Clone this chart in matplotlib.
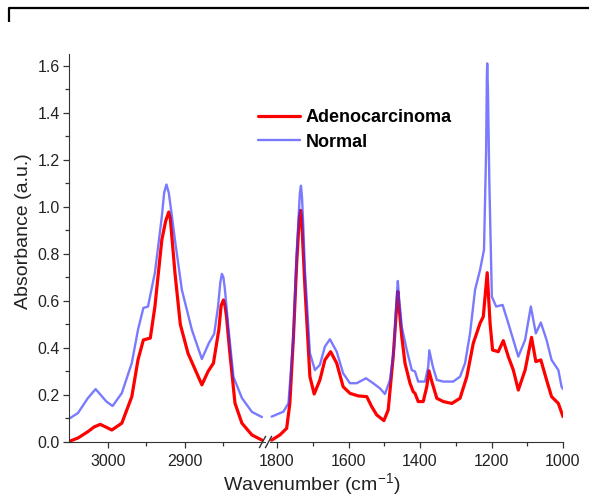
import matplotlib
matplotlib.use("Agg")
import matplotlib.pyplot as plt
from matplotlib.lines import Line2D
from matplotlib.ticker import MultipleLocator, FixedLocator, FormatStrFormatter

plt.rcParams["font.family"] = ["Liberation Sans", "DejaVu Sans"]
plt.rcParams["mathtext.default"] = "regular"

# ---- spectra: C-H stretching region (3050-2800 cm-1) ----
normal_hi_wn = [3050, 3039, 3026, 3016, 3002, 2994, 2982, 2969, 2961, 2954, 2948,
                2939, 2930, 2927, 2924, 2921, 2918, 2913, 2904, 2891, 2878, 2869, 2862, 2857,
                2854, 2852, 2850, 2848, 2844, 2837, 2826, 2813, 2800]
normal_hi_abs = [0.10, 0.123, 0.187, 0.225, 0.172, 0.153, 0.208, 0.336, 0.477, 0.57, 0.576,
                 0.72, 0.959, 1.06, 1.095, 1.06, 0.987, 0.86, 0.647, 0.477, 0.353, 0.42, 0.46, 0.576,
                 0.68, 0.715, 0.70, 0.647, 0.50, 0.277, 0.187, 0.128, 0.106]

adeno_hi_wn = [3050, 3039, 3026, 3018, 3010, 3003, 2995, 2982, 2969, 2961, 2954, 2945,
               2939, 2930, 2925, 2921, 2919, 2917, 2913, 2906, 2896, 2878, 2870, 2863, 2856,
               2853, 2850, 2848, 2846, 2842, 2835, 2826, 2813, 2800]
adeno_hi_abs = [0.003, 0.017, 0.044, 0.064, 0.075, 0.064, 0.051, 0.08, 0.193, 0.349, 0.434, 0.442,
                0.576, 0.86, 0.94, 0.978, 0.95, 0.874, 0.72, 0.50, 0.377, 0.243, 0.30, 0.335, 0.477,
                0.58, 0.604, 0.58, 0.533, 0.39, 0.165, 0.08, 0.03, 0.008]

# ---- spectra: fingerprint region (1815-1000 cm-1) ----
normal_lo_wn = [1815, 1782, 1768, 1754, 1745, 1740, 1736, 1733, 1730, 1726, 1722, 1708, 1694, 1680,
                1666, 1652, 1633, 1615, 1596, 1577, 1551, 1531, 1512, 1498, 1484, 1473,
                1466, 1462, 1459, 1451, 1437, 1423, 1414, 1405, 1386, 1377, 1374, 1364, 1353, 1335,
                1307, 1288, 1274, 1260, 1246, 1232, 1221, 1215, 1213, 1212, 1210, 1206, 1199, 1187,
                1169, 1153, 1139, 1125, 1106, 1090, 1076, 1062, 1046, 1032, 1013, 1004, 1000]
normal_lo_abs = [0.108, 0.129, 0.165, 0.448, 0.804, 0.945, 1.06, 1.09, 1.04, 0.90, 0.732, 0.378, 0.306, 0.328,
                 0.406, 0.437, 0.384, 0.292, 0.25, 0.25, 0.271, 0.25, 0.228, 0.204, 0.264, 0.391,
                 0.60, 0.685, 0.62, 0.49, 0.391, 0.306, 0.30, 0.257, 0.257, 0.32, 0.39, 0.32, 0.264, 0.257,
                 0.257, 0.278, 0.335, 0.462, 0.647, 0.732, 0.817, 1.243, 1.55, 1.61, 1.50, 1.10, 0.618, 0.576,
                 0.583, 0.505, 0.434, 0.363, 0.434, 0.576, 0.462, 0.508, 0.434, 0.349, 0.306, 0.235, 0.225]

adeno_lo_wn = [1815, 1792, 1773, 1764, 1754, 1745, 1740, 1737, 1734, 1731, 1728, 1722, 1708, 1696,
               1680, 1666, 1650, 1633, 1615, 1596, 1573, 1549, 1535, 1521, 1501, 1489,
               1475, 1466, 1462, 1459, 1451, 1442, 1428, 1419, 1414, 1405, 1391, 1381, 1375, 1367,
               1353, 1335, 1311, 1288, 1269, 1251, 1232, 1223, 1212, 1204, 1197, 1181,
               1167, 1153, 1139, 1125, 1106, 1088, 1076, 1062, 1046, 1032, 1013, 1000]
adeno_lo_abs = [0.008, 0.03, 0.058, 0.165, 0.448, 0.76, 0.89, 0.96, 0.985, 0.95, 0.85, 0.661, 0.278, 0.204,
                0.264, 0.349, 0.384, 0.335, 0.235, 0.207, 0.196, 0.193, 0.15, 0.115, 0.091, 0.136,
                0.363, 0.56, 0.64, 0.58, 0.448, 0.335, 0.25, 0.214, 0.207, 0.172, 0.172, 0.235, 0.303, 0.257,
                0.186, 0.172, 0.164, 0.186, 0.278, 0.42, 0.505, 0.533, 0.72, 0.505, 0.391, 0.384,
                0.431, 0.363, 0.306, 0.221, 0.306, 0.445, 0.342, 0.349, 0.264, 0.193, 0.164, 0.108]

series_labels = ["Adenocarcinoma", "Normal"]
y_ticks = [0.0, 0.2, 0.4, 0.6, 0.8, 1.0, 1.2, 1.4, 1.6]
hi_ticks = [3000, 2900]
lo_ticks = [1800, 1600, 1400, 1200, 1000]

W, H = 589, 496
fig = plt.figure(figsize=(W / 100, H / 100), dpi=100)

def fx(px):
    return px / W

def fy(py):
    return 1 - py / H

ax_top, ax_bot = 54, 442
ax_hi = fig.add_axes([fx(69), fy(ax_bot), fx(265) - fx(69), fy(ax_top) - fy(ax_bot)])
ax_lo = fig.add_axes([fx(270), fy(ax_bot), fx(563) - fx(270), fy(ax_top) - fy(ax_bot)])

red = "#ff0000"
blue = (0.2, 0.2, 1.0)
red_kw = dict(color=red, lw=2.3, solid_joinstyle="round", solid_capstyle="round")
blue_kw = dict(color=blue, alpha=0.65, lw=1.7, solid_joinstyle="round", solid_capstyle="round")

ax_hi.plot(adeno_hi_wn, adeno_hi_abs, **red_kw)
ax_hi.plot(normal_hi_wn, normal_hi_abs, **blue_kw)
ax_lo.plot(adeno_lo_wn, adeno_lo_abs, label=series_labels[0], **red_kw)
ax_lo.plot(normal_lo_wn, normal_lo_abs, label=series_labels[1], **blue_kw)

ymax = 1.65
for ax in (ax_hi, ax_lo):
    ax.set_ylim(0, ymax)
    ax.spines["top"].set_visible(False)
    ax.spines["right"].set_visible(False)
    ax.spines["bottom"].set_color("#333333")
    ax.tick_params(axis="both", which="both", direction="out", colors="#333333",
                   labelcolor="#222222", labelsize=11.5)
    ax.tick_params(axis="both", which="major", length=4.5, width=0.9)
    ax.tick_params(axis="both", which="minor", length=3, width=0.9)
    ax.tick_params(axis="x", pad=4)

ax_hi.set_xlim(3050.6, 2796)
ax_hi.xaxis.set_major_locator(FixedLocator(hi_ticks))
ax_hi.xaxis.set_minor_locator(FixedLocator([2950, 2850]))
ax_hi.spines["left"].set_color("#333333")
ax_hi.yaxis.set_major_locator(FixedLocator(y_ticks))
ax_hi.yaxis.set_minor_locator(MultipleLocator(0.1))
ax_hi.yaxis.set_major_formatter(FormatStrFormatter("%.1f"))
ax_hi.tick_params(axis="y", pad=2)
ax_hi.set_ylabel("Absorbance (a.u.)", fontsize=14, color="#222222")
ax_hi.yaxis.set_label_coords(-0.19, (ax_bot - 231) / (ax_bot - ax_top))

ax_lo.set_xlim(1819.6, 1000)
ax_lo.xaxis.set_major_locator(FixedLocator(lo_ticks))
ax_lo.xaxis.set_minor_locator(FixedLocator([1700, 1500, 1300, 1100]))
ax_lo.spines["left"].set_visible(False)
ax_lo.set_yticks([])
ax_lo.yaxis.set_minor_locator(FixedLocator([]))

fig.text(fx(312), fy(484), "Wavenumber (cm$^{-1}$)", fontsize=14, color="#222222",
         ha="center", va="center")

# axis break marks
for x0 in (259.5, 265.5):
    fig.add_artist(Line2D([fx(x0), fx(x0 + 6)], [fy(447.5), fy(436.5)],
                          color="#333333", lw=1.0))

# partial frame line along the top of the figure
fig.add_artist(Line2D([fx(8.5), fx(8.5), fx(589)], [fy(22), fy(8), fy(8)],
                      color="black", lw=1.6, solid_capstyle="butt"))

leg = ax_lo.legend(loc="upper left", bbox_to_anchor=(fx(258), fy(109)),
                   bbox_transform=fig.transFigure, frameon=False,
                   prop=dict(weight="bold", size=13), handlelength=2.3,
                   handletextpad=0.35, labelspacing=0.42, borderpad=0, borderaxespad=0)

fig.savefig("out.png", dpi=100)
